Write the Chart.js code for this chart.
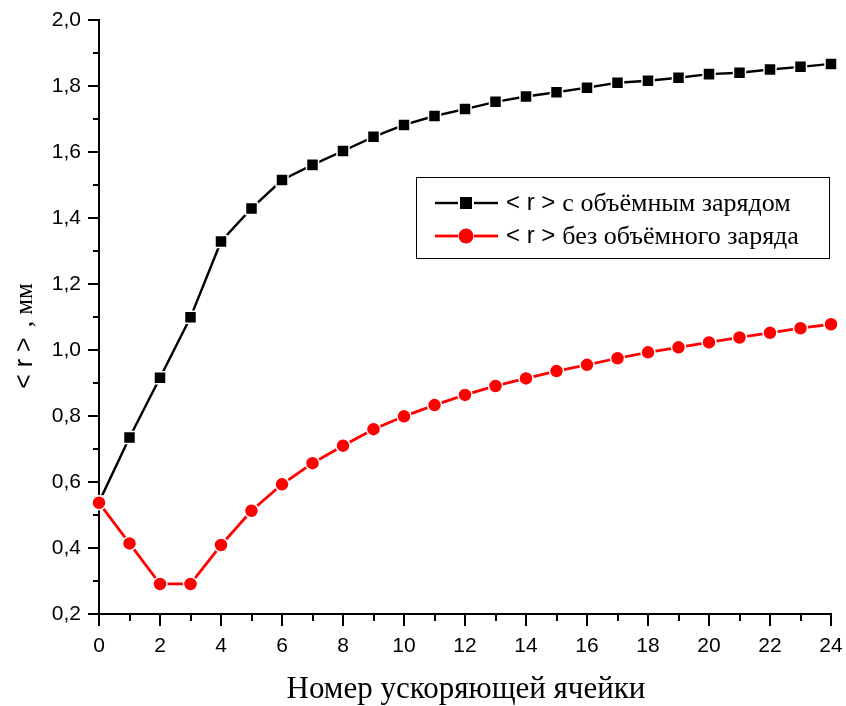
<!DOCTYPE html>
<html>
<head>
<meta charset="utf-8">
<script src="https://cdn.jsdelivr.net/npm/chart.js@4"></script>
<style>
html,body{margin:0;padding:0;background:#fff;}
#wrap{width:846px;height:706px;position:relative;}
</style>
</head>
<body>
<div id="wrap"><canvas id="c" width="846" height="706"></canvas></div>
<script>
const cells = [0,1,2,3,4,5,6,7,8,9,10,11,12,13,14,15,16,17,18,19,20,21,22,23,24];
const withCharge = [0.539,0.735,0.916,1.099,1.329,1.429,1.515,1.561,1.603,1.646,1.682,1.709,1.730,1.752,1.768,1.781,1.795,1.810,1.816,1.825,1.836,1.840,1.850,1.858,1.867];
const withoutCharge = [0.537,0.414,0.291,0.291,0.409,0.513,0.593,0.657,0.710,0.760,0.799,0.833,0.864,0.891,0.914,0.936,0.955,0.975,0.993,1.008,1.023,1.038,1.052,1.066,1.078];
const seriesLabels = ['с объёмным зарядом','без объёмного заряда'];
const xTitle = 'Номер ускоряющей ячейки';
const yTitleSym = '< r >';
const yTitleUnit = ', мм';

const SANS = '"Liberation Sans", Arial, sans-serif';
const SERIF = '"Liberation Serif", "Times New Roman", serif';

function pts(arr){ return cells.map((c,i)=>({x:c,y:arr[i]})); }

const decor = {
  id:'decor',
  afterDraw(chart){
    const ctx = chart.ctx;
    const xs = chart.scales.x, ys = chart.scales.y;
    const ca = chart.chartArea;
    ctx.save();
    ctx.strokeStyle = '#000';
    ctx.lineWidth = 2;
    // minor ticks
    for (let v = 1; v < 24; v += 2) {
      const px = Math.round(xs.getPixelForValue(v));
      ctx.beginPath(); ctx.moveTo(px, ca.bottom); ctx.lineTo(px, ca.bottom + 7); ctx.stroke();
    }
    for (let k = 3; k < 20; k += 2) {
      const py = Math.round(ys.getPixelForValue(k/10));
      ctx.beginPath(); ctx.moveTo(ca.left, py); ctx.lineTo(ca.left - 6, py); ctx.stroke();
    }
    // x title
    ctx.fillStyle = '#000';
    ctx.font = '31px ' + SERIF;
    ctx.textAlign = 'center';
    ctx.textBaseline = 'middle';
    ctx.fillText(xTitle, 466, 690);
    // y title (rotated, mixed fonts)
    ctx.save();
    ctx.translate(25, 336);
    ctx.rotate(-Math.PI/2);
    ctx.textAlign = 'left';
    ctx.textBaseline = 'middle';
    ctx.font = '25px ' + SANS;
    const w1 = ctx.measureText(yTitleSym).width;
    ctx.font = '25px ' + SERIF;
    const w2 = ctx.measureText(yTitleUnit).width;
    const gap = 10;
    let sx = -(w1 + gap + w2)/2;
    ctx.font = '25px ' + SANS;
    ctx.fillText(yTitleSym, sx, 0);
    ctx.font = '25px ' + SERIF;
    ctx.fillText(yTitleUnit, sx + w1 + gap, 0);
    ctx.restore();
    // legend
    const bx = 416, by = 177, bw = 413, bh = 81;
    ctx.fillStyle = '#fff';
    ctx.fillRect(bx, by, bw, bh);
    ctx.lineWidth = 1;
    ctx.strokeStyle = '#000';
    ctx.strokeRect(bx + 0.5, by + 0.5, bw, bh);
    const rows = [203, 236];
    chart.data.datasets.forEach((ds, i) => {
      const y = rows[i];
      ctx.strokeStyle = ds.borderColor;
      ctx.lineWidth = ds.borderWidth;
      ctx.beginPath(); ctx.moveTo(435, y); ctx.lineTo(458, y); ctx.stroke();
      ctx.beginPath(); ctx.moveTo(474, y); ctx.lineTo(498, y); ctx.stroke();
      ctx.fillStyle = ds.pointBackgroundColor;
      if (ds.pointStyle === 'rect') {
        ctx.fillRect(460, y - 6, 12, 12);
      } else {
        ctx.beginPath(); ctx.arc(466, y, 7.5, 0, Math.PI*2); ctx.fill();
      }
      ctx.fillStyle = '#000';
      ctx.textAlign = 'left';
      ctx.textBaseline = 'middle';
      ctx.font = '24px ' + SANS;
      const sym = '< r >';
      ctx.fillText(sym, 506, y);
      const ws = ctx.measureText(sym).width;
      ctx.font = '26px ' + SERIF;
      ctx.fillText(ds.label, 506 + ws + 7, y + 1);
    });
    ctx.restore();
  }
};

new Chart(document.getElementById('c'), {
  type: 'line',
  data: {
    datasets: [
      {
        label: seriesLabels[0],
        data: pts(withCharge),
        borderColor: '#000000',
        backgroundColor: '#000000',
        pointBackgroundColor: '#000000',
        pointBorderColor: '#ffffff',
        pointBorderWidth: 1.5,
        pointStyle: 'rect',
        pointRadius: 8.5,
        borderWidth: 2.4,
        tension: 0,
        clip: false,
        order: 1
      },
      {
        label: seriesLabels[1],
        data: pts(withoutCharge),
        borderColor: '#ff0000',
        backgroundColor: '#ff0000',
        pointBackgroundColor: '#ff0000',
        pointBorderColor: '#ffffff',
        pointBorderWidth: 1.5,
        pointStyle: 'circle',
        pointRadius: 7,
        borderWidth: 2.8,
        tension: 0,
        clip: false,
        order: 0
      }
    ]
  },
  options: {
    responsive: false,
    animation: false,
    events: [],
    layout: { padding: { top: 20, right: 15, left: 0, bottom: 0 } },
    plugins: { legend: { display: false }, tooltip: { enabled: false } },
    scales: {
      x: {
        type: 'linear',
        min: 0, max: 24,
        border: { display: true, color: '#000', width: 2 },
        grid: { drawOnChartArea: false, drawTicks: true, tickLength: 12, color: '#000', lineWidth: 2 },
        ticks: { stepSize: 2, color: '#000', font: { family: SANS, size: 21 }, padding: 8, maxRotation: 0 },
        afterFit(s){ s.height = 92; s.paddingLeft = 0; s.paddingRight = 0; }
      },
      y: {
        min: 0.2, max: 2.0,
        border: { display: true, color: '#000', width: 2 },
        grid: { drawOnChartArea: false, drawTicks: true, tickLength: 11, color: '#000', lineWidth: 2 },
        ticks: { stepSize: 0.2, color: '#000', font: { family: SANS, size: 21 }, padding: 7,
          callback: v => v.toFixed(1).replace('.', ',') },
        afterFit(s){ s.width = 99; s.paddingTop = 0; s.paddingBottom = 0; }
      }
    }
  },
  plugins: [decor]
});
</script>
</body>
</html>
